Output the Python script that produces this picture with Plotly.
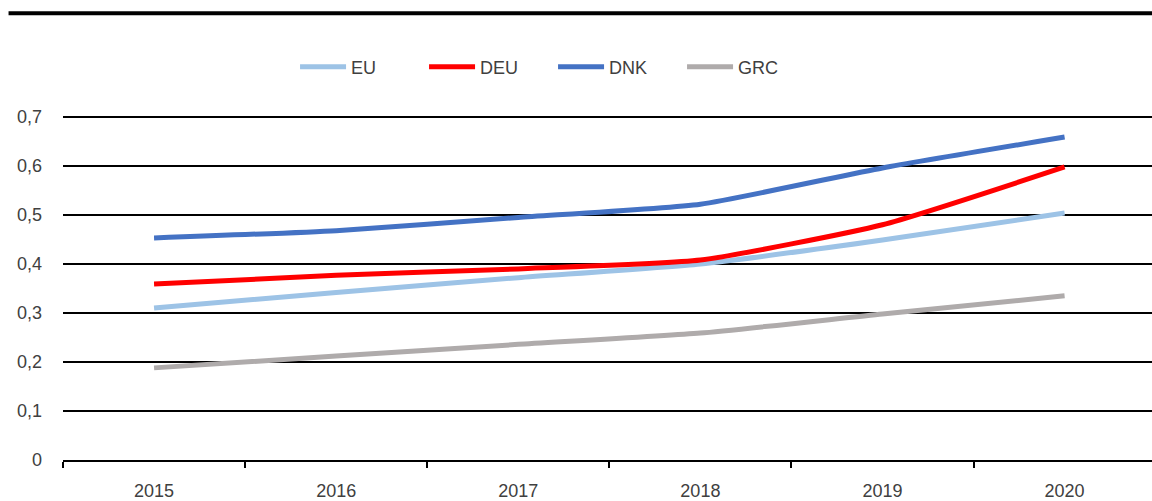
import plotly.graph_objects as go

years = ["2015", "2016", "2017", "2018", "2019", "2020"]
eu = [0.310, 0.342, 0.372, 0.400, 0.449, 0.504]
deu = [0.359, 0.377, 0.390, 0.408, 0.480, 0.598]
dnk = [0.453, 0.468, 0.495, 0.522, 0.596, 0.659]
grc = [0.188, 0.212, 0.236, 0.259, 0.298, 0.335]

series = [("EU", eu, "#9DC3E6"), ("DEU", deu, "#FF0000"),
          ("DNK", dnk, "#4472C4"), ("GRC", grc, "#AFABAB")]

ytick_vals = [0, 0.1, 0.2, 0.3, 0.4, 0.5, 0.6, 0.7]
ytick_text = ["0", "0,1", "0,2", "0,3", "0,4", "0,5", "0,6", "0,7"]

xpos = list(range(len(years)))

fig = go.Figure()
for name, vals, col in series:
    fig.add_trace(go.Scatter(x=xpos, y=vals, name=name, mode="lines",
                             line=dict(color=col, width=5, shape="spline", smoothing=0.5)))

font = dict(family="Liberation Sans", size=18, color="#404040")
fig.update_layout(
    width=1152, height=501,
    margin=dict(l=63, r=0, t=115, b=41),
    paper_bgcolor="white", plot_bgcolor="white",
    font=font,
    showlegend=True,
    legend=dict(orientation="h", x=0.45, xanchor="center", y=0.866, yanchor="middle",
                yref="container", font=font, itemwidth=46, entrywidth=68,
                traceorder="normal", tracegroupgap=0),
    xaxis=dict(type="linear", range=[-0.5, 5.48], showgrid=False, showline=True,
               linecolor="black", linewidth=2, zeroline=False, automargin=False,
               tickmode="array", tickvals=xpos, ticktext=years, ticks="",
               minor=dict(tickmode="linear", tick0=-0.5, dtick=1, ticks="outside",
                          ticklen=6, tickwidth=2, tickcolor="black", showgrid=False),
               ticklabelstandoff=13, tickfont=font),
    yaxis=dict(range=[0, 0.704], tickvals=ytick_vals, ticktext=ytick_text,
               showgrid=True, gridcolor="black", gridwidth=2, zeroline=False,
               showline=False, ticks="", ticklabelstandoff=20, tickfont=font,
               automargin=False),
    shapes=[dict(type="line", xref="paper", yref="paper", x0=-0.05, x1=1.0,
                 y0=1.295, y1=1.295, line=dict(color="black", width=4))],
)
fig.write_html("out.html")
